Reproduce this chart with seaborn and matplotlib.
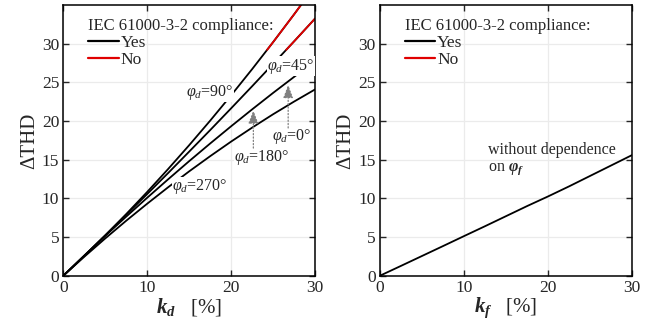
import numpy as np
import pandas as pd
import matplotlib
matplotlib.use("Agg")
import matplotlib.pyplot as plt
import seaborn as sns
from matplotlib.lines import Line2D

# ---------------- data ----------------
k = [0, 2.5, 5, 7.5, 10, 12.5, 15, 17.5, 20, 22.5, 25, 27.5, 30]
thd_d_90 = [0, 2.55, 5.21, 7.97, 10.83, 13.80, 16.87, 20.04, 23.32, 26.70, 30.19, 33.78, 37.47]
thd_d_45 = [0, 2.59, 5.22, 7.87, 10.56, 13.28, 16.04, 18.82, 21.64, 24.49, 27.38, 30.29, 33.24]
thd_d_0_180 = [0, 2.60, 5.15, 7.64, 10.08, 12.47, 14.81, 17.09, 19.32, 21.50, 23.63, 25.70, 27.72]
thd_d_270 = [0, 2.45, 4.82, 7.11, 9.31, 11.44, 13.49, 15.45, 17.34, 19.14, 20.87, 22.51, 24.08]
thd_f = [0, 1.27, 2.55, 3.83, 5.12, 6.40, 7.70, 9.00, 10.25, 11.55, 12.90, 14.25, 15.60]
limit = 29.2  # IEC 61000-3-2 compliance limit on ΔTHD
x_ticks = [0, 10, 20, 30]
y_ticks = [0, 5, 10, 15, 20, 25, 30]

# ---------------- style ----------------
sns.set_style("ticks")
plt.rcParams["font.family"] = ["Liberation Serif", "DejaVu Serif"]
plt.rcParams["mathtext.fontset"] = "custom"
plt.rcParams["mathtext.rm"] = "Liberation Serif"
plt.rcParams["mathtext.it"] = "Liberation Serif:italic"
plt.rcParams["mathtext.bf"] = "Liberation Serif:italic:bold"

fig = plt.figure(figsize=(6.67, 3.26), dpi=100)
axL = fig.add_axes([0.0949, 0.1543, 0.3774, 0.8304])
axR = fig.add_axes([0.5697, 0.1543, 0.3780, 0.8304])


def draw(ax, x, y):
    x = np.asarray(x, float)
    y = np.asarray(y, float)
    sns.lineplot(x=x, y=y, color="black", lw=1.3, ax=ax, estimator=None, sort=False)
    if y.max() > limit:
        xc = np.interp(limit, y, x)
        m = y > limit
        xr = np.concatenate([[xc], x[m]])
        yr = np.concatenate([[limit], y[m]])
        sns.lineplot(x=xr, y=yr, color="#e00000", lw=1.3, ax=ax, estimator=None, sort=False)


for yy in [thd_d_90, thd_d_45, thd_d_0_180, thd_d_270]:
    draw(axL, k, yy)
draw(axR, k, thd_f)

for ax in (axL, axR):
    ax.set_xlim(0, 30)
    ax.set_ylim(0, 35)
    ax.set_xticks(x_ticks)
    ax.set_yticks(y_ticks)
    ax.grid(True, color="#ebebeb", lw=0.9)
    ax.set_axisbelow(True)
    ax.tick_params(direction="in", top=True, right=True, labelsize=12.5, length=4, width=1, pad=3)
    for s in ax.spines.values():
        s.set_linewidth(1.1)
        s.set_color("black")
    ax.set_ylabel("ΔTHD", fontsize=15, labelpad=2)
    handles = [Line2D([], [], color="black", lw=1.6), Line2D([], [], color="#e00000", lw=1.6)]
    leg = ax.legend(handles, ["Yes", "No"], title="IEC 61000-3-2 compliance:",
                    loc="upper left", bbox_to_anchor=(0.065, 0.985), frameon=False,
                    fontsize=12.5, title_fontsize=12, alignment="left",
                    handlelength=1.75, handletextpad=0.1, labelspacing=0.05,
                    borderaxespad=0.3, borderpad=0.2)

axL.set_xlabel(r"$\mathbf{k_d}$   [%]", fontsize=15, labelpad=0)
axR.set_xlabel(r"$\mathbf{k_f}$   [%]", fontsize=15, labelpad=0)

lab = dict(fontsize=11.5, bbox=dict(fc="white", ec="none", pad=0.2))
axL.text(20.3, 23.7, r"$\varphi_d$=90°", ha="right", va="center", **lab)
axL.text(24.3, 27.1, r"$\varphi_d$=45°", ha="left", va="center", **lab)
axL.text(24.9, 18.0, r"$\varphi_d$=0°", ha="left", va="center", **lab)
axL.text(20.4, 15.3, r"$\varphi_d$=180°", ha="left", va="center", **lab)
axL.text(13.0, 11.5, r"$\varphi_d$=270°", ha="left", va="center", **lab)

arr = dict(arrowstyle="-|>,head_width=0.3,head_length=0.8", color="gray", lw=0.9, ls=":",
           shrinkA=0, shrinkB=0)
axL.annotate("", xy=(26.8, 24.7), xytext=(26.8, 19.1), arrowprops=arr)
axL.annotate("", xy=(22.65, 21.4), xytext=(22.65, 16.5), arrowprops=arr)

axR.text(12.9, 16.3, "without dependence", ha="left", va="center", fontsize=11.5)
axR.text(12.9, 13.8, r"on $\mathbf{\varphi_f}$", ha="left", va="center", fontsize=11.5)

fig.savefig("out.png", dpi=100)
